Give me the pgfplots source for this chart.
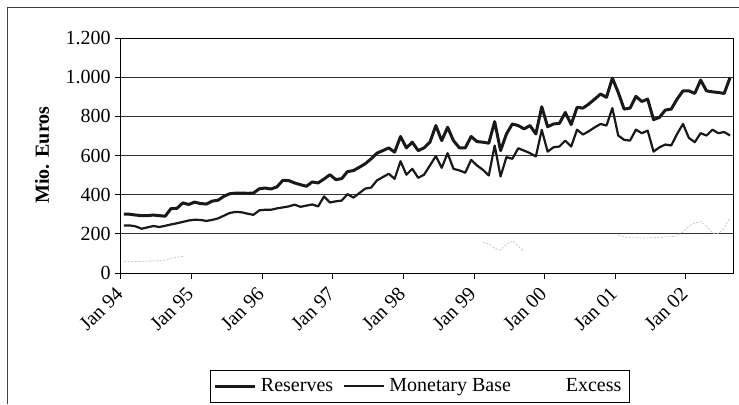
\documentclass[border=0pt]{standalone}
\usepackage{fontspec}
\setmainfont{Liberation Serif}
\usepackage{pgfplots}
\usepackage{pgfplotstable}
\pgfplotsset{compat=1.18}

% monthly values, Jan 94 = 0
\pgfplotstableread{
m res mb
0 301 243
1 300 243
2 296 238
3 293 226
4 293 233
5 296 240
6 293 235
7 290 241
8 329 248
9 330 254
10 358 261
11 350 268
12 362 272
13 355 271
14 352 266
15 367 271
16 372 279
17 392 293
18 405 307
19 408 312
20 408 310
21 407 303
22 408 297
23 430 320
24 434 323
25 429 323
26 440 330
27 473 335
28 472 340
29 460 349
30 451 338
31 443 344
32 465 350
33 460 340
34 480 391
35 502 360
36 477 366
37 482 370
38 518 403
39 523 385
40 540 408
41 558 431
42 583 436
43 612 473
44 625 490
45 639 507
46 617 481
47 697 571
48 639 502
49 668 532
50 625 486
51 639 502
52 668 549
53 753 597
54 676 537
55 744 612
56 676 532
57 639 524
58 639 512
59 697 578
60 671 549
61 668 527
62 663 498
63 773 651
64 625 493
65 710 592
66 761 583
67 753 637
68 736 625
69 753 612
70 710 595
71 849 731
72 747 620
73 761 642
74 764 646
75 820 676
76 758 646
77 846 732
78 842 707
79 863 724
80 888 744
81 914 761
82 897 753
83 995 842
84 922 702
85 837 680
86 842 676
87 902 732
88 876 714
89 888 727
90 783 620
91 795 642
92 832 656
93 837 651
94 888 710
95 930 761
96 930 690
97 917 668
98 985 714
99 930 702
100 925 732
101 922 714
102 917 720
103 998 702
}\reserves

% excess, only the parts that show in the scan
\pgfplotstableread{
m exc
0 60
1 58
2 58
3 60
4 60
5 62
6 62
7 65
8 75
9 80
10 85
11 nan
60 nan
61 155
62 150
63 125
64 118
65 145
66 165
67 138
68 110
69 nan
83 nan
84 195
85 185
86 180
87 180
88 178
89 180
90 180
91 182
92 185
93 185
94 190
95 210
96 240
97 255
98 262
99 240
100 205
101 200
102 230
103 280
}\excess

\begin{document}
\fontsize{10}{12}\selectfont
\begin{tikzpicture}
\path[use as bounding box] (0pt,0pt) rectangle (369.5pt,202pt);
\draw[black!75, line width=0.5pt] (3.5pt,0pt) -- (3.5pt,198.5pt) -- (369.5pt,198.5pt);
\begin{axis}[
    at={(60.5pt,65.5pt)}, anchor=south west,
    scale only axis,
    width=306pt, height=117.5pt,
    xmin=0, xmax=104,
    ymin=0, ymax=1200,
    xtick={0,12,...,96},
    xticklabels={Jan 94,Jan 95,Jan 96,Jan 97,Jan 98,Jan 99,Jan 00,Jan 01,Jan 02},
    ytick={0,200,...,1200},
    yticklabels={0,200,400,600,800,1.000,1.200},
    tick pos=left,
    tick align=outside,
    major tick length=3pt,
    tick style={black, line width=0.5pt},
    axis line style={black, line width=0.5pt},
    ymajorgrids,
    grid style={black!80, line width=0.5pt},
    xticklabel style={yshift=-5pt, rotate=45, anchor=east, inner sep=1pt},
    yticklabel style={inner sep=2pt},
    ylabel={\textbf{Mio. Euros}},
    ylabel style={at={(axis description cs:-0.129,0.502)}, anchor=center},
    unbounded coords=jump,
    legend columns=3,
    legend style={at={(0.488,-0.481)}, anchor=center, draw=black, thin,
        inner sep=2pt,
        /tikz/every even column/.append style={column sep=3pt}},
    legend image code/.code={\draw[#1] (0pt,0pt) -- (20pt,0pt);},
]
\addplot[black!90, line width=1.5pt, line join=round] table[x expr=\thisrow{m}+0.5, y=res] {\reserves};
\addlegendentry{Reserves}
\addplot[black!90, line width=1.1pt, line join=round] table[x expr=\thisrow{m}+0.5, y=mb] {\reserves};
\addlegendentry{Monetary Base}
\addplot[black!22, line width=0.4pt, dash pattern=on 1pt off 0.8pt, forget plot] table[x expr=\thisrow{m}+0.5, y=exc] {\excess};
\addlegendimage{draw=white}
\addlegendentry{Excess}
\end{axis}
\end{tikzpicture}
\end{document}
